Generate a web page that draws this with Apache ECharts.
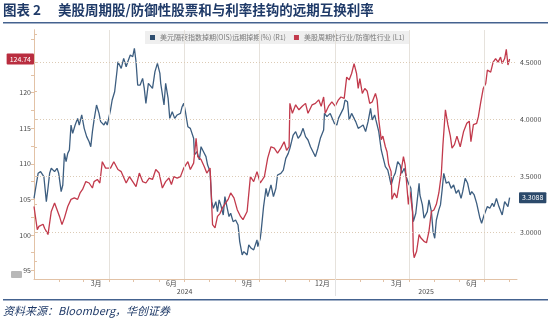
<!DOCTYPE html>
<html>
<head>
<meta charset="utf-8">
<script src="https://cdn.jsdelivr.net/npm/echarts@6/dist/echarts.min.js"></script>
<style>
  html, body { margin: 0; padding: 0; background: #ffffff; }
  #chart { width: 550px; height: 322px; }
</style>
</head>
<body>
<div id="chart"></div>
<script>
// ---- Data (x = days since 2024-01-01) ----
const TITLE_NO = '图表 2';
const TITLE = '美股周期股/防御性股票和与利率挂钩的远期互换利率';
const SOURCE = '资料来源：Bloomberg，华创证券';

const BLUE_NAME = '美元隔夜指数掉期(OIS)远期掉期(%) (R1)';
const RED_NAME = '美股周期性行业/防御性行业 (L1)';

// Cyclicals / defensives ratio (left axis)
const RED_DAYS = [0,4,6,11,13,15,17,21,25,28,31,34,37,41,45,49,53,56,59,63,67,71,73,77,80,83,87,93,97,102,106,112,116,120,124,128,132,136,140,144,148,152,
  156,160,164,167,170,174,178,182,187,190,194,197,199,203,207,210,214,217,220,223,226,229,233,236,239,243,247,251,254,259,263,267,271,275,280,284,288,292,296,300,
  304,307,310,311,314,318,322,326,330,333,338,342,346,349,352,354,358,362,366,370,373,377,380,383,386,389,392,394,396,399,402,405,408,411,415,417,419,422,424,427,429,431,434,435,438,441,443,
  446,449,451,453,455,457,460,461,462,465,468,470,474,477,480,483,486,489,492,495,497,500,503,506,508,511,514,518,522,526,529,531,534,538,540,543,546,549,551,555,558,561,564,567,569,572,574,576,578];
const RED = [104.0,100.75,101.2,101.5,100.9,100.5,100.05,103.3,104.5,103.55,102.6,101.45,102.4,104.0,105.0,105.2,105.0,105.9,106.4,107.5,107.3,106.6,107.5,107.8,107.3,110.3,109.4,109.4,110.3,109.2,108.9,107.3,108.2,107.5,106.8,108.7,107.5,107.3,108.0,107.8,109.2,108.7,
  106.6,107.5,108.0,107.1,108.2,108.0,108.2,109.4,110.3,109.2,110.1,113.6,111.0,110.6,109.6,108.7,109.4,101.45,101.0,102.6,103.0,103.8,104.5,105.0,105.9,105.2,103.55,102.6,102.15,103.3,108.2,107.5,108.9,107.3,108.2,110.8,112.4,112.2,111.5,112.2,
  113.1,111.9,112.4,118.5,117.1,118.3,117.6,118.1,118.5,117.1,118.3,118.5,119.0,118.1,119.4,117.1,118.1,118.7,118.1,119.0,119.4,119.2,122.2,121.8,122.7,124.1,122.7,120.6,122.0,119.9,120.6,120.2,118.5,118.7,119.9,119.0,116.2,113.4,113.9,112.4,111.7,109.9,108.9,105.0,105.9,105.2,106.6,
  108.9,111.0,109.9,107.1,104.3,106.1,103.3,97.7,96.8,97.7,100.05,99.6,99.1,98.9,100.5,103.3,103.5,104.3,105.9,108.5,112.7,117.6,115.5,113.9,112.2,112.7,113.9,112.4,114.5,115.7,116.0,113.1,115.5,115.7,116.6,118.7,120.6,121.3,123.2,122.9,124.3,124.8,124.3,125.0,124.1,124.8,126.1,123.9,124.74];

// OIS forward swap rate, % (right axis)
const BLUE_DAYS = [0,2,5,8,12,15,17,19,21,25,28,30,33,35,37,39,41,43,45,47,50,53,55,58,61,64,67,69,71,73,76,79,81,85,87,89,93,95,98,101,102,106,109,112,114,117,120,122,124,126,129,132,134,136,139,141,144,147,150,153,
  154,158,160,163,165,168,171,174,178,180,182,184,187,190,194,195,198,201,203,206,209,211,214,216,218,221,223,225,227,230,232,234,237,239,242,245,248,250,253,255,259,261,264,267,271,272,275,276,279,282,284,288,291,294,296,300,
  303,306,309,311,313,315,318,321,324,327,330,333,336,339,342,345,348,352,353,356,360,362,365,368,370,373,376,378,381,383,386,388,391,394,397,400,403,406,409,411,414,416,419,422,424,427,430,432,434,437,439,442,445,
  447,450,453,455,458,461,464,466,468,469,472,474,478,480,483,485,487,489,492,494,496,498,501,504,507,510,513,516,519,521,524,527,530,532,535,538,542,544,547,551,554,557,559,562,565,567,569,572,574,576,578];
const BLUE = [3.303,3.392,3.524,3.539,3.494,3.274,3.392,3.524,3.568,3.539,3.568,3.524,3.362,3.421,3.700,3.627,3.700,3.730,3.950,3.877,3.950,4.009,3.950,4.039,3.921,3.848,3.803,3.759,3.892,3.995,4.127,4.053,3.980,3.950,3.980,3.950,4.083,4.171,4.244,4.436,4.509,4.450,4.539,4.465,4.509,4.568,4.553,4.627,4.509,4.303,4.303,4.362,4.274,4.141,4.318,4.303,4.274,4.421,4.494,4.406,
  4.318,4.127,4.318,4.185,4.009,4.068,4.009,4.039,4.053,4.112,4.141,4.068,3.935,3.921,3.833,3.686,3.715,3.642,3.759,3.715,3.671,3.597,3.539,3.274,3.215,3.274,3.186,3.289,3.245,3.156,3.318,3.245,3.142,3.171,3.097,3.112,3.068,2.921,2.803,2.833,2.803,2.892,2.862,2.848,2.936,2.877,2.951,3.009,3.230,3.392,3.318,3.421,3.318,3.392,3.509,3.524,
  3.553,3.656,3.700,3.745,3.803,3.862,3.892,3.833,3.862,3.921,3.848,3.818,3.759,3.715,3.671,3.745,3.833,3.906,4.053,4.024,4.053,4.039,3.965,3.950,4.009,4.053,4.097,4.171,4.156,3.995,4.053,4.039,3.980,3.921,3.935,3.950,3.892,3.980,4.097,3.995,4.039,3.980,3.892,3.730,3.671,3.583,3.553,3.539,3.421,3.494,3.524,3.627,3.597,
  3.524,3.568,3.480,3.436,3.392,3.097,3.171,3.303,3.436,3.333,3.245,3.127,3.186,3.289,3.186,3.009,2.951,3.112,3.201,3.245,3.377,3.524,3.436,3.450,3.392,3.421,3.348,3.377,3.303,3.362,3.480,3.436,3.333,3.362,3.333,3.259,3.127,3.083,3.156,3.230,3.215,3.259,3.230,3.303,3.230,3.245,3.156,3.274,3.289,3.230,3.3088];

// Axis labels
const MONTH_LABEL_KEYS = ['2024-03', '2024-06', '2024-09', '2024-12', '2025-03', '2025-06'];
const YEAR_LABELS = ['2024', '2025'];
const LEFT_TICKS = [95, 100, 105, 110, 115, 120];
const RIGHT_TICKS = [3.0, 3.5, 4.0, 4.5];

// ---- Helpers ----
const BASE = Date.UTC(2024, 0, 1);
const dayOf = (y, m, d) => (Date.UTC(y, m - 1, d) - BASE) / 86400000;
const X_MAX = dayOf(2025, 8, 10);

const monthStarts = [];
for (let y = 2024, m = 2; !(y === 2025 && m === 9); ) {
  monthStarts.push(dayOf(y, m, 1));
  m++; if (m > 12) { m = 1; y++; }
}
const quarterStarts = monthStarts.filter((d, i) => [1, 4, 7, 10].includes(new Date(BASE + d * 86400000).getUTCMonth() + 1));

const monthLabelPos = MONTH_LABEL_KEYS.map(k => {
  const [y, m] = k.split('-').map(Number);
  const a = dayOf(y, m, 1);
  const b = m === 12 ? dayOf(y + 1, 1, 1) : dayOf(y, m + 1, 1);
  return (a + b) / 2;
});
const monthLabelText = new Map(monthLabelPos.map((p, i) => [p, Number(MONTH_LABEL_KEYS[i].split('-')[1]) + '月']));

const yearBreak = dayOf(2025, 1, 1);
const yearLabelPos = [yearBreak / 2, (yearBreak + X_MAX) / 2];
const yearLabelText = new Map(yearLabelPos.map((p, i) => [p, YEAR_LABELS[i]]));

const leftMinor = []; for (let v = 95; v <= 127.5; v += 2.5) leftMinor.push(v);
const rightMinor = []; for (let v = 2.75; v <= 4.76; v += 0.25) rightMinor.push(Math.round(v * 100) / 100);

const RED_LAST = RED[RED.length - 1];
const BLUE_LAST = BLUE[BLUE.length - 1];

const AXIS_COLOR = '#e2c2a6';
const LABEL_COLOR = '#4a4a4a';
const FONT = '"Noto Sans CJK SC", "Noto Sans", sans-serif';
const NAVY = '#1f3a68';

const chart = echarts.init(document.getElementById('chart'), null, { renderer: 'canvas' });

chart.setOption({
  animation: false,
  backgroundColor: '#ffffff',
  textStyle: { fontFamily: FONT },
  grid: { left: 34, right: 33, top: 30, bottom: 43 },
  legend: {
    data: [BLUE_NAME, RED_NAME],
    top: 31, left: 145,
    icon: 'rect', itemWidth: 5, itemHeight: 5, itemGap: 8,
    backgroundColor: '#efefef', padding: [3, 5],
    textStyle: { fontSize: 7, color: '#7a7a7a', fontFamily: FONT }
  },
  xAxis: [
    {
      type: 'value', min: 0, max: X_MAX, position: 'bottom',
      axisLine: { show: true, lineStyle: { color: AXIS_COLOR, width: 1 } },
      axisTick: { show: true, customValues: monthStarts, length: 3, lineStyle: { color: AXIS_COLOR } },
      axisLabel: {
        customValues: monthLabelPos, fontSize: 7, color: LABEL_COLOR, margin: 1,
        formatter: v => monthLabelText.get(v) || ''
      },
      splitLine: { show: false }
    },
    {
      type: 'value', min: 0, max: X_MAX, position: 'bottom', offset: 0,
      axisLine: { show: false },
      axisTick: { show: true, customValues: [yearBreak], length: 17, lineStyle: { color: '#e2e2e2' } },
      axisLabel: {
        customValues: yearLabelPos, fontSize: 7, color: LABEL_COLOR, margin: 9,
        formatter: v => yearLabelText.get(v) || ''
      },
      splitLine: { show: false }
    }
  ],
  yAxis: [
    {
      type: 'value', position: 'left', min: 93.8, max: 128.82,
      axisLine: { show: true, lineStyle: { color: AXIS_COLOR } },
      axisTick: { show: true, customValues: leftMinor, length: 3, lineStyle: { color: AXIS_COLOR } },
      axisLabel: { customValues: LEFT_TICKS, fontSize: 7, color: LABEL_COLOR, margin: 3 },
      splitLine: { show: false },
      axisPointer: {
        show: true, type: 'line', value: RED_LAST, status: 'show', triggerTooltip: false,
        lineStyle: { opacity: 0, width: 0 },
        label: {
          show: true, formatter: p => Number(p.value).toFixed(2),
          backgroundColor: '#b92d3f', color: '#ffffff', fontSize: 7,
          padding: [2, 3, 2, 3], borderRadius: 1, margin: 0
        }
      }
    },
    {
      type: 'value', position: 'right', min: 2.591, max: 4.789,
      axisLine: { show: true, lineStyle: { color: AXIS_COLOR } },
      axisTick: { show: true, customValues: rightMinor, length: 3, lineStyle: { color: AXIS_COLOR } },
      axisLabel: { customValues: RIGHT_TICKS, fontSize: 7, color: LABEL_COLOR, margin: 3, formatter: v => v.toFixed(4) },
      splitLine: { show: false },
      axisPointer: {
        show: true, type: 'line', value: BLUE_LAST, status: 'show', triggerTooltip: false,
        lineStyle: { opacity: 0, width: 0 },
        label: {
          show: true, formatter: p => Number(p.value).toFixed(4),
          backgroundColor: '#2c4a6b', color: '#ffffff', fontSize: 7,
          padding: [2, 3, 2, 3], borderRadius: 1, margin: 2
        }
      }
    }
  ],
  series: [
    {
      name: 'gridlines', type: 'line', xAxisIndex: 0, yAxisIndex: 1, data: [], silent: true, z: 1,
      markLine: {
        symbol: 'none', silent: true, animation: false, label: { show: false },
        data: [
          ...quarterStarts.map(d => ({ xAxis: d, lineStyle: { color: '#e6e2dc', type: 'solid', width: 1 } })),
          ...RIGHT_TICKS.map(v => ({ yAxis: v, lineStyle: { color: '#dccbb6', type: [1, 2], width: 1 } }))
        ]
      }
    },
    {
      name: BLUE_NAME, type: 'line', xAxisIndex: 0, yAxisIndex: 1, z: 3,
      data: BLUE_DAYS.map((d, i) => [d, BLUE[i]]),
      showSymbol: false, symbol: 'none',
      lineStyle: { color: '#3d5e80', width: 1.3 },
      itemStyle: { color: '#2f4e70' }
    },
    {
      name: RED_NAME, type: 'line', xAxisIndex: 0, yAxisIndex: 0, z: 3,
      data: RED_DAYS.map((d, i) => [d, RED[i]]),
      showSymbol: false, symbol: 'none',
      lineStyle: { color: '#c23a4c', width: 1.3 },
      itemStyle: { color: '#c23a4c' }
    }
  ],
  graphic: [
    { type: 'text', left: 3, top: 3, style: { text: TITLE_NO, font: 'bold 13.5px ' + FONT, fill: NAVY } },
    { type: 'text', left: 58, top: 3, style: { text: TITLE, font: 'bold 13.5px ' + FONT, fill: NAVY } },
    { type: 'rect', shape: { x: 3, y: 22, width: 545, height: 1.5 }, style: { fill: '#44628f' } },
    { type: 'rect', shape: { x: 3, y: 299, width: 545, height: 1.5 }, style: { fill: '#44628f' } },
    { type: 'text', left: 3, top: 305, style: { text: SOURCE, font: 'italic 11px ' + FONT, fill: NAVY } },
    { type: 'rect', shape: { x: 11, y: 271, width: 11, height: 7, r: 1 }, style: { fill: '#b8b8b8' } }
  ]
});
</script>
</body>
</html>
